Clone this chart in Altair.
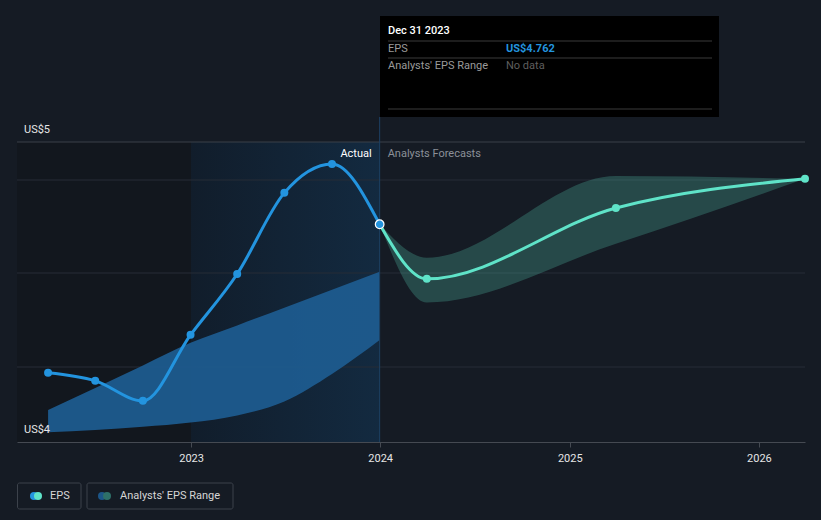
import altair as alt
import pandas as pd

# ---------------- data ----------------
eps_dates = ["2022-03-31", "2022-06-30", "2022-09-30", "2022-12-31",
             "2023-03-31", "2023-06-30", "2023-09-30", "2023-12-31"]
eps_values = [4.242, 4.214, 4.144, 4.375, 4.588, 4.872, 4.973, 4.762]
past_low = [4.034, 4.042, 4.053, 4.068, 4.093, 4.142, 4.238, 4.357]
past_high = [4.112, 4.189, 4.268, 4.347, 4.408, 4.470, 4.533, 4.596]

fc_dates = ["2023-12-31", "2024-03-31", "2025-03-31", "2026-03-31"]
fc_values = [4.762, 4.571, 4.819, 4.921]
fc_low = [4.762, 4.488, 4.694, 4.921]
fc_high = [4.762, 4.645, 4.931, 4.921]

grid_values = [4.2625, 4.5915, 4.917]
top_value = 5.05
y_labels = ["US$5", "US$4"]
y_label_values = [5.05, 4.0]
year_ticks = [2023, 2024, 2025, 2026]

BG = "#151b24"
BLUE = "#2394df"
TEAL = "#5fe3c8"
FONT = "Roboto"

W, H = 788, 300

eps_df = pd.DataFrame({"date": eps_dates, "eps": eps_values, "lo": past_low, "hi": past_high})
fc_df = pd.DataFrame({"date": fc_dates, "eps": fc_values, "lo": fc_low, "hi": fc_high})

xscale = alt.Scale(type="utc",
                   domain=[alt.DateTime(year=2022, month=1, date=30, utc=True),
                           alt.DateTime(year=2026, month=3, date=31, utc=True)])
yscale = alt.Scale(domain=[4.0, 5.05], nice=False, zero=False)

xaxis = alt.Axis(values=[alt.DateTime(year=y, month=1, date=1, utc=True) for y in year_ticks],
                 format="%Y", formatType="utc", title=None, grid=False,
                 domainColor="#454a52", tickColor="#454a52", tickSize=5,
                 labelColor="#e6e6e6", labelFontSize=11, labelFont=FONT,
                 labelPadding=5)


def X(field="date"):
    return alt.X(f"{field}:T", scale=xscale, axis=xaxis, title=None)


def Y(f):
    return alt.Y(f, type="quantitative", scale=yscale, axis=None)


# shaded regions
shade_df = pd.DataFrame({"start": ["2022-01-30"], "end": ["2023-01-01"]})
hl_df = pd.DataFrame({"start": ["2023-01-01"], "end": ["2023-12-31"]})
dark_rect = alt.Chart(shade_df).mark_rect(color="#12171e").encode(
    x=X("start"), x2="end:T", y=alt.value(0), y2=alt.value(H))
hl_rect = alt.Chart(hl_df).mark_rect(
    color=alt.Gradient(gradient="linear",
                       stops=[alt.GradientStop(color="#111d2b", offset=0),
                              alt.GradientStop(color="#132a40", offset=1)],
                       x1=0, x2=1, y1=0, y2=0)).encode(
    x=X("start"), x2="end:T", y=alt.value(0), y2=alt.value(H))

# grid
grid = alt.Chart(pd.DataFrame({"v": grid_values})).mark_rule(color="#272d36", strokeWidth=1).encode(
    y=Y("v"), x=alt.value(0), x2=alt.value(W))
top_line = alt.Chart(pd.DataFrame({"v": [top_value]})).mark_rule(color="#3a4049", strokeWidth=1).encode(
    y=Y("v"), x=alt.value(0), x2=alt.value(W))

# bands
past_band = alt.Chart(eps_df).mark_area(color="#1d5b8e", interpolate="monotone", opacity=0.95).encode(
    x=X(), y=Y("lo"), y2="hi")
fc_band = alt.Chart(fc_df).mark_area(color=TEAL, interpolate="monotone", opacity=0.23).encode(
    x=X(), y=Y("lo"), y2="hi")

# lines
eps_line = alt.Chart(eps_df).mark_line(color=BLUE, strokeWidth=3, interpolate="monotone").encode(x=X(), y=Y("eps"))
eps_pts = alt.Chart(eps_df).mark_circle(color=BLUE, size=64, opacity=1).encode(x=X(), y=Y("eps"))
fc_line = alt.Chart(fc_df).mark_line(color=TEAL, strokeWidth=3, interpolate="monotone").encode(x=X(), y=Y("eps"))
fc_pts = alt.Chart(fc_df.iloc[1:]).mark_circle(color=TEAL, size=64, opacity=1).encode(x=X(), y=Y("eps"))

# vertical rule at last actual
now_df = pd.DataFrame({"date": ["2023-12-31"], "eps": [4.762]})
vrule = alt.Chart(now_df).mark_rule(color="#1d4163", strokeWidth=1).encode(
    x=X(), y=alt.value(-25), y2=alt.value(H))
now_pt = alt.Chart(now_df).mark_point(filled=True, fill=BLUE, stroke="white", strokeWidth=1.2,
                                      size=75, opacity=1, shape="circle").encode(x=X(), y=Y("eps"))

# y labels
ylab = alt.Chart(pd.DataFrame({"v": y_label_values, "t": y_labels})).mark_text(
    align="left", baseline="middle", dy=-12, fontSize=11, font=FONT, color="#e6e6e6").encode(
    x=alt.value(7), y=Y("v"), text="t:N")

# Actual / forecast labels
act_txt = alt.Chart(now_df).mark_text(align="right", baseline="middle", dx=-8, fontSize=11,
                                      font=FONT, color="#ffffff").encode(
    x=X(), y=alt.value(12), text=alt.value("Actual"))
fc_txt = alt.Chart(now_df).mark_text(align="left", baseline="middle", dx=8, fontSize=11,
                                     font=FONT, color="#8b9098").encode(
    x=X(), y=alt.value(12), text=alt.value("Analysts Forecasts"))

# tooltip box
one = pd.DataFrame({"a": [0]})
tip_box = alt.Chart(one).mark_rect(color="#000000").encode(
    x=alt.value(363), x2=alt.value(702), y=alt.value(-126), y2=alt.value(-25))
sep_df = pd.DataFrame({"yy": [-101, -84, -33]})
tip_seps = alt.Chart(sep_df).mark_rule(color="#3a3a3a", strokeWidth=1).encode(
    x=alt.value(371), x2=alt.value(695), y=alt.Y("yy:Q", scale=None, axis=None))
tip_title = alt.Chart(one).mark_text(align="left", baseline="middle", fontSize=11, font=FONT,
                                     color="#ffffff", fontWeight=500).encode(
    x=alt.value(371), y=alt.value(-111), text=alt.value("Dec 31 2023"))
tip_l1 = alt.Chart(one).mark_text(align="left", baseline="middle", fontSize=11, font=FONT,
                                  color="#9a9a9a").encode(
    x=alt.value(371), y=alt.value(-93), text=alt.value("EPS"))
tip_v1 = alt.Chart(one).mark_text(align="left", baseline="middle", fontSize=11, font=FONT,
                                  color=BLUE, fontWeight="bold").encode(
    x=alt.value(489), y=alt.value(-93), text=alt.value("US$4.762"))
tip_l2 = alt.Chart(one).mark_text(align="left", baseline="middle", fontSize=11, font=FONT,
                                  color="#9a9a9a").encode(
    x=alt.value(371), y=alt.value(-76), text=alt.value("Analysts' EPS Range"))
tip_v2 = alt.Chart(one).mark_text(align="left", baseline="middle", fontSize=11, font=FONT,
                                  color="#5e5e5e").encode(
    x=alt.value(489), y=alt.value(-76), text=alt.value("No data"))

# legend
leg_box1 = alt.Chart(one).mark_rect(fill=BG, stroke="#3c424b", strokeWidth=1, cornerRadius=2).encode(
    x=alt.value(0.5), x2=alt.value(64), y=alt.value(341), y2=alt.value(367))
leg_box2 = alt.Chart(one).mark_rect(fill=BG, stroke="#3c424b", strokeWidth=1, cornerRadius=2).encode(
    x=alt.value(70), x2=alt.value(216), y=alt.value(341), y2=alt.value(367))
leg_c1 = alt.Chart(one).mark_circle(color=BLUE, size=64, opacity=1).encode(x=alt.value(17), y=alt.value(354))
leg_c2 = alt.Chart(one).mark_circle(color=TEAL, size=64, opacity=1).encode(x=alt.value(21), y=alt.value(354))
leg_c3 = alt.Chart(one).mark_circle(color="#1c5688", size=64, opacity=1).encode(x=alt.value(85), y=alt.value(354))
leg_c4 = alt.Chart(one).mark_circle(color="#2e7069", size=64, opacity=1).encode(x=alt.value(90), y=alt.value(354))
leg_t1 = alt.Chart(one).mark_text(align="left", baseline="middle", fontSize=11, font=FONT,
                                  color="#d6d6d6").encode(x=alt.value(33), y=alt.value(354), text=alt.value("EPS"))
leg_t2 = alt.Chart(one).mark_text(align="left", baseline="middle", fontSize=11, font=FONT,
                                  color="#d6d6d6").encode(x=alt.value(103), y=alt.value(354),
                                                         text=alt.value("Analysts' EPS Range"))

chart = alt.layer(
    dark_rect, hl_rect, grid, top_line, past_band, fc_band, vrule,
    eps_line, eps_pts, fc_line, fc_pts, now_pt, ylab, act_txt, fc_txt,
    tip_box, tip_seps, tip_title, tip_l1, tip_v1, tip_l2, tip_v2,
    leg_box1, leg_box2, leg_c1, leg_c2, leg_c3, leg_c4, leg_t1, leg_t2,
).properties(
    width=W, height=H, background=BG,
    padding={"left": 17, "top": 142, "right": 16, "bottom": 78},
    autosize=alt.AutoSizeParams(type="none"),
).configure_view(stroke=None)

chart.save("out.html", embed_options={"renderer": "svg", "actions": False})
